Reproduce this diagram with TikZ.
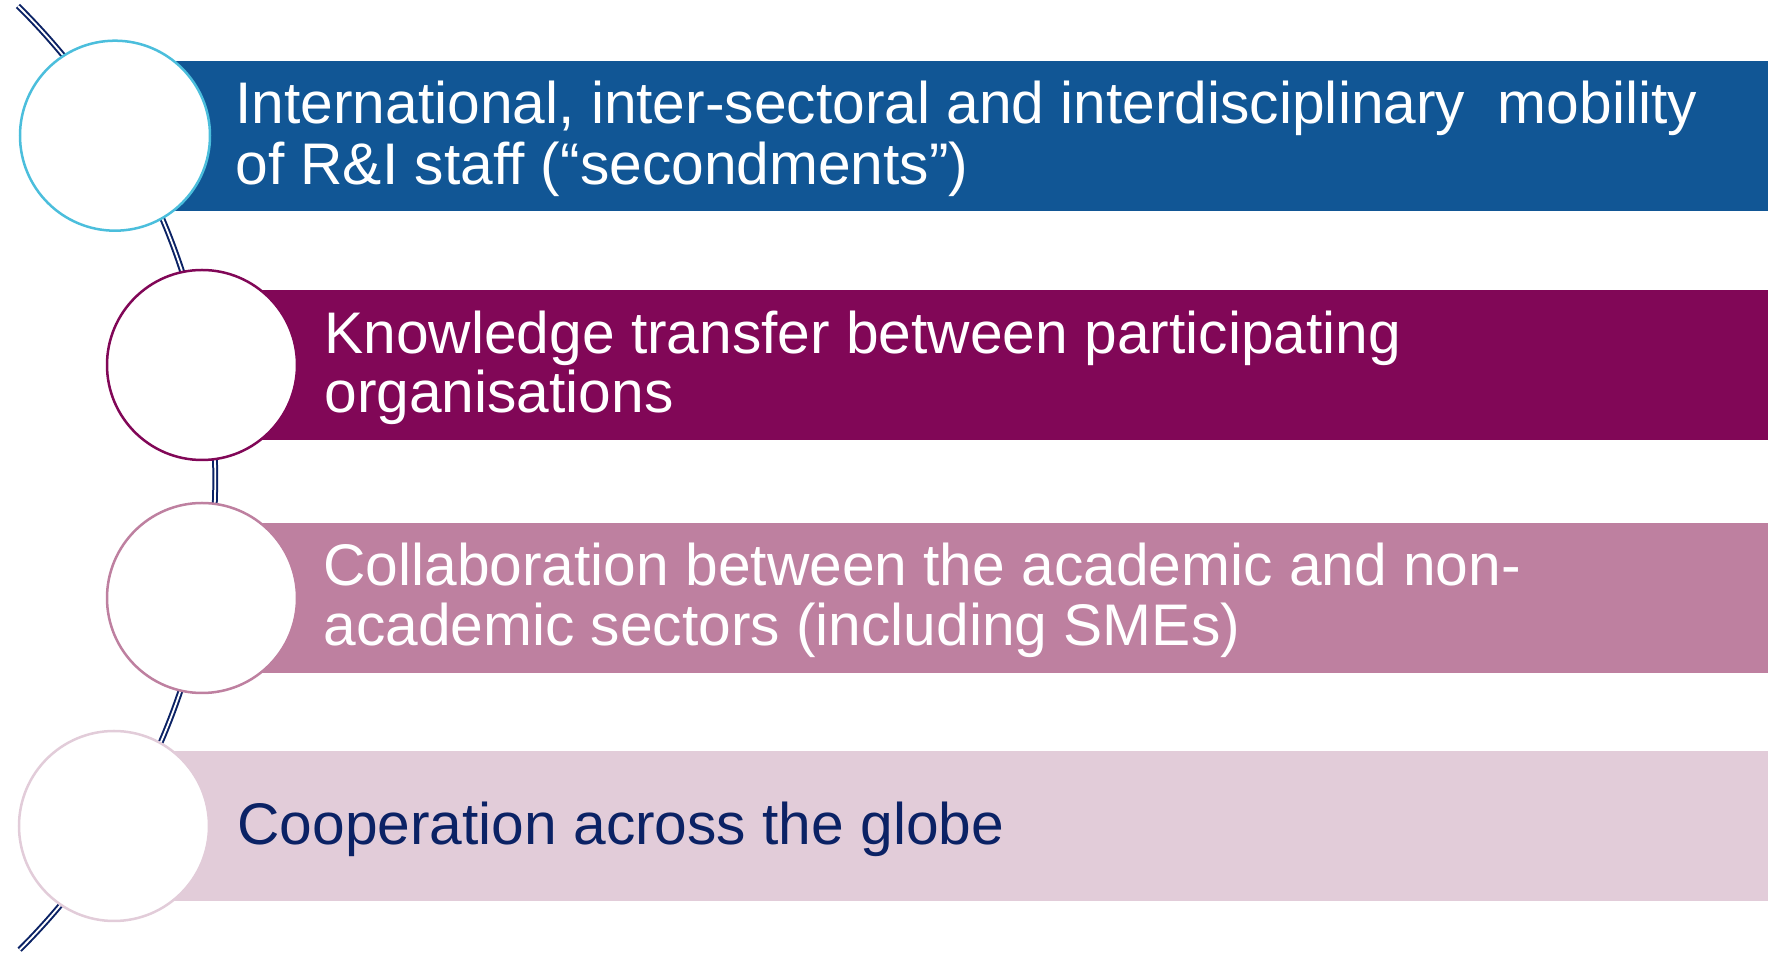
\documentclass[tikz,border=0pt]{standalone}
\usepackage{fontspec}
\setmainfont{Liberation Sans}
\definecolor{barA}{HTML}{115695}
\definecolor{barB}{HTML}{810757}
\definecolor{barC}{HTML}{BE80A0}
\definecolor{barD}{HTML}{E2CCD9}
\definecolor{ringA}{HTML}{4BBEDC}
\definecolor{navy}{HTML}{0B2265}
\begin{document}
\begin{tikzpicture}[x=0.5pt,y=0.5pt,
  ring/.style={circle, draw=#1, fill=white, line width=1.25pt, minimum size=95pt, inner sep=0pt},
  label/.style={anchor=base west, inner sep=0pt, text=#1, font=\fontsize{29.35pt}{30pt}\selectfont},
  spine/.style={draw=navy, double=white, double distance=0.9pt, line width=1pt}]
\useasboundingbox (0,0) rectangle (1768,958);
% spine arc
\coordinate (top) at (18,952);
\draw[spine] (top) arc[start angle=45.3, end angle=-45.1, radius=665] coordinate (bottom);
% bars
\fill[barA] (115,747.3) rectangle (1768,897.3);
\fill[barB] (202,518) rectangle (1768,668);
\fill[barC] (202,284.7) rectangle (1768,434.7);
\fill[barD] (114,57) rectangle (1768,207.3);
% circles
\node[ring=ringA] (c1) at (115,822.3) {};
\node[ring=barB] (c2) at (202,593) {};
\node[ring=barC] (c3) at (202,360) {};
\node[ring=barD] (c4) at (114,132) {};
% texts
\node[label=white] (t1a) at (235,834) {International, inter-sectoral and interdisciplinary\ \ mobility};
\node[label=white] (t1b) at (235,773.5) {of R\&I staff (“secondments”)};
\node[label=white] (t2a) at (324,604.7) {Knowledge transfer between participating};
\node[label=white] (t2b) at (324,545.5) {organisations};
\node[label=white] (t3a) at (323,372.3) {Collaboration between the academic and non-};
\node[label=white] (t3b) at (323,312.5) {academic sectors (including SMEs)};
\node[label=navy] (t4) at (237,113) {Cooperation across the globe};
\end{tikzpicture}
\end{document}
